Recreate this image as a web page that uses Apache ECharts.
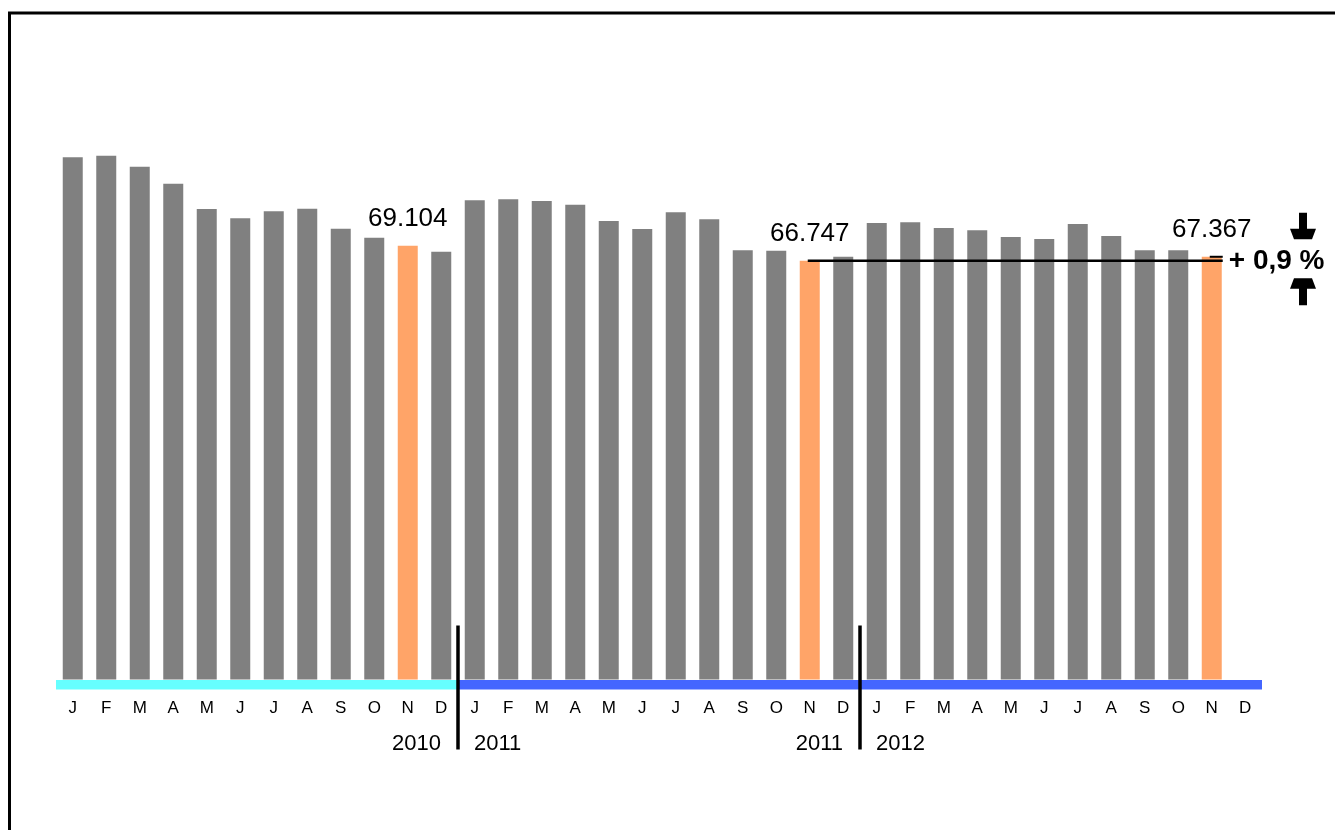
<!DOCTYPE html>
<html>
<head>
<meta charset="utf-8">
<style>
  html, body { margin: 0; padding: 0; background: #fff; }
  #chart { width: 1335px; height: 830px; }
</style>
<script src="https://cdn.jsdelivr.net/npm/echarts@6/dist/echarts.min.js"></script>
</head>
<body>
<div id="chart"></div>
<script>
// Monthly values (in units), three years
const monthLabels = ['J', 'F', 'M', 'A', 'M', 'J', 'J', 'A', 'S', 'O', 'N', 'D'];
const years = ['2010', '2011', '2012'];
const values2010 = [83220, 83470, 81720, 79010, 74980, 73500, 74610, 75030, 71840, 70410, 69104, 68180];
const values2011 = [76370, 76530, 76250, 75670, 73070, 71790, 74450, 73340, 68400, 68330, 66747, 67380];
const values2012 = [72750, 72860, 71950, 71580, 70520, 70200, 72590, 70680, 68400, 68400, 67367, null];
const highlightMonth = 10; // November

const FONT = "'Liberation Sans', Arial, sans-serif";
const GREY = '#808080';
const ORANGE = '#FFA468';
const CYAN = '#66FFFF';
const BLUE = '#4466FF';

const categories = [];
const seriesData = [];
[values2010, values2011, values2012].forEach(function (vals) {
  vals.forEach(function (v, m) {
    categories.push(monthLabels[m]);
    const hi = m === highlightMonth;
    seriesData.push({
      value: v,
      itemStyle: { color: hi ? ORANGE : GREY },
      label: { show: hi && v != null }
    });
  });
});

function fmtThousands(v) {
  return String(Math.round(v)).replace(/\B(?=(\d{3})+(?!\d))/g, '.');
}

const chart = echarts.init(document.getElementById('chart'), null, { renderer: 'canvas' });

chart.setOption({
  animation: false,
  backgroundColor: '#fff',
  grid: { left: 56, right: 73, top: 52, bottom: 150.5, containLabel: false },
  xAxis: {
    type: 'category',
    data: categories,
    axisLine: { show: false },
    axisTick: { show: false },
    axisLabel: { color: '#000', fontSize: 17, fontFamily: FONT, margin: 20, interval: 0 }
  },
  yAxis: {
    type: 'value',
    min: 0,
    max: 100000,
    show: false,
    splitLine: { show: false }
  },
  series: [{
    type: 'bar',
    data: seriesData,
    barWidth: 20,
    label: {
      position: 'top',
      distance: 14,
      color: '#000',
      fontSize: 26,
      fontFamily: FONT,
      formatter: function (p) { return fmtThousands(p.value); }
    }
  }]
});

// Pixel helpers from the chart's own scales
function px(idx, val) {
  return chart.convertToPixel({ xAxisIndex: 0, yAxisIndex: 0 }, [idx, val]);
}
const x0 = px(0, 0)[0];
const step = px(1, 0)[0] - x0;
const baseY = px(0, 0)[1];
function leftEdge(idx) { return px(idx, 0)[0] - step / 2; }

const n = categories.length;
const g = [];

// Outer frame
g.push({ type: 'rect', shape: { x: 9.5, y: 13, width: 1400, height: 900 },
  style: { fill: 'none', stroke: '#000', lineWidth: 3 }, z: 10 });

// Year bands under the bars
const bandTop = baseY + 0.5;
const bandH = 9.5;
g.push({ type: 'rect', shape: { x: leftEdge(0), y: bandTop, width: leftEdge(12) - leftEdge(0), height: bandH },
  style: { fill: CYAN }, z: 5 });
g.push({ type: 'rect', shape: { x: leftEdge(12), y: bandTop, width: leftEdge(n) - leftEdge(12), height: bandH },
  style: { fill: BLUE }, z: 5 });

// Year dividers with year labels either side
[[12, years[0], years[1]], [24, years[1], years[2]]].forEach(function (d) {
  const xb = leftEdge(d[0]);
  g.push({ type: 'line', shape: { x1: xb, y1: baseY - 54, x2: xb, y2: baseY + 70 },
    style: { stroke: '#000', lineWidth: 3.5 }, z: 6 });
  g.push({ type: 'text', x: xb - 17, y: baseY + 64,
    style: { text: d[1], fill: '#000', font: '22px ' + FONT, textAlign: 'right', textVerticalAlign: 'middle' }, z: 6 });
  g.push({ type: 'text', x: xb + 16, y: baseY + 64,
    style: { text: d[2], fill: '#000', font: '22px ' + FONT, textAlign: 'left', textVerticalAlign: 'middle' }, z: 6 });
});

// Reference line from last year's November to this year's November
const prevIdx = 12 + highlightMonth;
const curIdx = 24 + highlightMonth;
const prevVal = values2011[highlightMonth];
const curVal = values2012[highlightMonth];
const refY = px(prevIdx, prevVal)[1];
const curY = px(curIdx, curVal)[1];
const barRight = px(curIdx, 0)[0] + 10 + 1; // right edge of the bar plus a small overhang
g.push({ type: 'line', shape: { x1: px(prevIdx, 0)[0] - 2, y1: refY, x2: barRight, y2: refY },
  style: { stroke: '#000', lineWidth: 2.5 }, z: 7 });
g.push({ type: 'line', shape: { x1: px(curIdx, 0)[0] - 2, y1: curY, x2: barRight, y2: curY },
  style: { stroke: '#000', lineWidth: 2 }, z: 7 });

// Year-over-year change
const pct = (curVal - prevVal) / prevVal * 100;
const pctText = (pct >= 0 ? '+ ' : '- ') + Math.abs(pct).toFixed(1).replace('.', ',') + ' %';
g.push({ type: 'text', x: barRight + 6, y: refY + 1,
  style: { text: pctText, fill: '#000', font: 'bold 28px ' + FONT, textAlign: 'left', textVerticalAlign: 'middle' }, z: 7 });

// Arrows pointing at the change figure
const ax = 1303;
g.push({ type: 'polygon', shape: { points: [
  [ax - 4, refY - 48], [ax + 4, refY - 48], [ax + 4, refY - 32], [ax + 13, refY - 32],
  [ax + 9, refY - 21.5], [ax - 9, refY - 21.5], [ax - 13, refY - 32], [ax - 4, refY - 32]
] }, style: { fill: '#000' }, z: 7 });
g.push({ type: 'polygon', shape: { points: [
  [ax - 9, refY + 17.5], [ax + 9, refY + 17.5], [ax + 13, refY + 28], [ax + 4, refY + 28],
  [ax + 4, refY + 44.5], [ax - 4, refY + 44.5], [ax - 4, refY + 28], [ax - 13, refY + 28]
] }, style: { fill: '#000' }, z: 7 });

chart.setOption({ graphic: { elements: g } });
</script>
</body>
</html>
